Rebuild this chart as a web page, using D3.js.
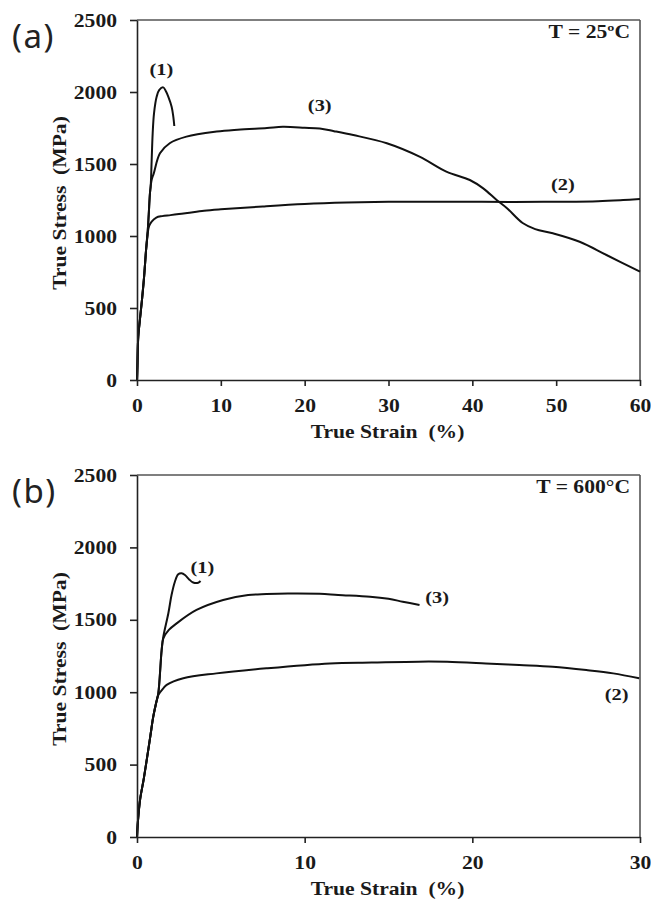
<!DOCTYPE html>
<html>
<head>
<meta charset="utf-8">
<script src="https://cdn.jsdelivr.net/npm/d3@7"></script>
<style>
  html, body { margin: 0; padding: 0; background: #fff; }
  svg { display: block; }
  text { white-space: pre; }
</style>
</head>
<body>
<svg id="chart" width="651" height="900"></svg>
<script>
// ---------- DATA ----------
const yTicks = [0, 500, 1000, 1500, 2000, 2500];
const xTicksA = [0, 10, 20, 30, 40, 50, 60];
const xTicksB = [0, 10, 20, 30];
const panelLabels = ["(a)", "(b)"];
const tempLabels = ["T = 25ºC", "T = 600°C"];
const xTitle = "True Strain  (%)";
const yTitle = "True Stress  (MPa)";

// Panel (a), T = 25 °C   [strain %, stress MPa]
const curveA1 = [[0,0],[0.05,100],[0.15,300],[0.35,420],[0.6,560],[0.85,720],[1.05,880],[1.25,1010],
  [1.4,1150],[1.55,1300],[1.63,1342],[1.75,1528],[1.87,1713],[2.03,1852],[2.35,1968],[2.66,2014],
  [3.13,2032],[3.45,2005],[3.73,1968],[4.13,1898],[4.33,1829],[4.45,1764]];
const curveA2 = [[0,0],[0.05,100],[0.15,300],[0.35,420],[0.6,560],[0.85,720],[1.05,880],[1.25,1010],
  [1.45,1070],[1.75,1100],[2.3,1128],[3,1138],[4,1145],[5,1153],[6,1160],[8,1175],[10,1185],
  [15,1205],[20,1222],[25,1232],[30,1237],[35,1238],[40,1238],[45,1236],[50,1238],[55,1242],
  [58,1250],[60,1257]];
const curveA3 = [[0,0],[0.05,100],[0.15,300],[0.35,420],[0.6,560],[0.85,720],[1.05,880],[1.25,1010],
  [1.4,1150],[1.55,1300],[1.75,1390],[2.0,1435],[2.74,1574],[3.9,1644],[5.9,1690],[9.5,1725],
  [12,1738],[15.5,1750],[17.4,1758],[20,1752],[21.8,1746],[23.5,1728],[25.8,1701],[29.8,1644],
  [33.7,1551],[36.9,1447],[39.7,1389],[41.3,1331],[42.9,1250],[44.1,1195],[46.0,1090],[47.5,1048],
  [49.6,1019],[52.8,960],[56.0,868],[60,752]];

// Panel (b), T = 600 °C
const curveB1 = [[0,0],[0.05,100],[0.18,255],[0.4,400],[0.58,532],[0.8,700],[0.97,831],[1.15,930],
  [1.27,992],[1.47,1291],[1.57,1383],[1.87,1545],[2.06,1671],[2.26,1763],[2.46,1814],[2.66,1821],
  [2.86,1809],[3.11,1779],[3.35,1758],[3.65,1756],[3.79,1768]];
const curveB2 = [[0,0],[0.05,100],[0.18,255],[0.4,400],[0.58,532],[0.8,700],[0.97,831],[1.15,930],
  [1.27,980],[1.57,1027],[1.77,1050],[2.76,1096],[4.74,1130],[7.72,1165],[11.5,1199],[14,1205],
  [16.8,1211],[18.5,1210],[20.8,1199],[22.8,1188],[24.8,1176],[26.8,1153],[28.4,1130],[29.95,1096]];
const curveB3 = [[0,0],[0.05,100],[0.18,255],[0.4,400],[0.58,532],[0.8,700],[0.97,831],[1.15,930],
  [1.27,992],[1.47,1291],[1.57,1372],[1.9,1430],[2.36,1475],[3.55,1568],[5.14,1637],[6.63,1671],
  [7.72,1678],[9,1682],[10.9,1680],[12,1672],[13.9,1660],[15,1645],[15.85,1625],[16.85,1602]];

// curve labels [strain, stress, text]
const labelsA = [[2.9, 2120, "(1)"], [21.8, 1870, "(3)"], [50.8, 1320, "(2)"]];
const labelsB = [[3.9, 1825, "(1)"], [17.9, 1615, "(3)"], [28.6, 945, "(2)"]];

// ---------- DRAW ----------
const svg = d3.select("#chart");
const SX = 1.2; // horizontal stretch of the serif text
const serif = "'Liberation Serif', 'Times New Roman', serif";

function stretchedText(g, x, y, txt, opts = {}) {
  return g.append("text")
    .attr("transform", `translate(${x},${y})${opts.rotate ? " rotate(-90)" : ""} scale(${SX},1)`)
    .attr("text-anchor", opts.anchor || "middle")
    .style("font-family", serif)
    .style("font-weight", "bold")
    .style("font-size", (opts.size || 18) + "px")
    .attr("fill", "#1a1a1a")
    .text(txt);
}

function panel(cfg) {
  const { left, right, top, bottom, xMax, xTicks, curves, labels, panelLabel, temp } = cfg;
  const x = d3.scaleLinear().domain([0, xMax]).range([left, right]);
  const y = d3.scaleLinear().domain([0, 2500]).range([bottom, top]);
  const g = svg.append("g");

  // frame (top and right)
  g.append("line").attr("x1", left).attr("x2", right).attr("y1", top).attr("y2", top)
    .attr("stroke", "#555").attr("stroke-width", 1.6);
  g.append("line").attr("x1", right).attr("x2", right).attr("y1", top).attr("y2", bottom)
    .attr("stroke", "#555").attr("stroke-width", 1.6);

  // curves
  const line = d3.line().x(d => x(d[0])).y(d => y(d[1])).curve(d3.curveCatmullRom.alpha(0.5));
  curves.forEach(c => {
    g.append("path").datum(c).attr("d", line)
      .attr("fill", "none").attr("stroke", "#111").attr("stroke-width", 2)
      .attr("stroke-linejoin", "round");
  });

  // x axis
  const xa = g.append("g").attr("transform", `translate(0,${bottom})`)
    .call(d3.axisBottom(x).tickValues(xTicks).tickSize(6).tickSizeOuter(0).tickFormat(d3.format("d")));
  // y axis
  const ya = g.append("g").attr("transform", `translate(${left},0)`)
    .call(d3.axisLeft(y).tickValues(yTicks).tickSize(7).tickSizeOuter(0).tickFormat(d3.format("d")));
  [xa, ya].forEach(a => {
    a.select(".domain").attr("stroke", "#222").attr("stroke-width", 1.6);
    a.selectAll(".tick line").attr("stroke", "#222").attr("stroke-width", 1.6);
    a.selectAll(".tick text")
      .style("font-family", serif).style("font-weight", "bold").style("font-size", "18px")
      .attr("fill", "#1a1a1a");
  });
  xa.selectAll(".tick text").attr("y", 32).attr("dy", 0).attr("transform", `scale(${SX},1)`)
    .attr("x", 0);
  ya.selectAll(".tick text").attr("x", -20 / SX).attr("dy", "0.34em").attr("transform", `scale(${SX},1)`);

  // titles
  stretchedText(g, (left + right) / 2 - 1, bottom + 58, xTitle);
  stretchedText(g, 66, (top + bottom) / 2 + 3, yTitle, { rotate: true });

  // temperature
  stretchedText(g, right - 10, top + 18, temp, { anchor: "end" });

  // curve labels
  labels.forEach(l => stretchedText(g, x(l[0]), y(l[1]), l[2], { size: 17 }));

  // panel label
  g.append("text").attr("x", 12).attr("y", top + 28)
    .style("font-family", "'Noto Sans', 'DejaVu Sans', sans-serif")
    .style("font-size", "33px").style("letter-spacing", "1.5px")
    .attr("fill", "#222").text(panelLabel);
}

panel({ left: 137, right: 640, top: 20, bottom: 380, xMax: 60, xTicks: xTicksA,
  curves: [curveA1, curveA2, curveA3], labels: labelsA, panelLabel: panelLabels[0], temp: tempLabels[0] });
panel({ left: 137, right: 640, top: 475, bottom: 837, xMax: 30, xTicks: xTicksB,
  curves: [curveB1, curveB2, curveB3], labels: labelsB, panelLabel: panelLabels[1], temp: tempLabels[1] });
</script>
</body>
</html>
